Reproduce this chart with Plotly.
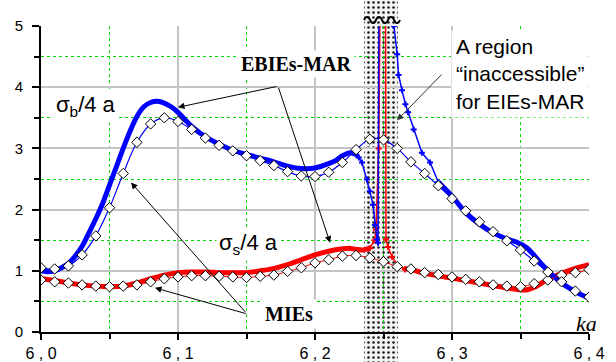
import plotly.graph_objects as go

# ---------------- data ----------------
# MIEs (thin lines with diamonds)
mie_ka = [6.00, 6.01, 6.02, 6.03, 6.04, 6.05, 6.06, 6.07, 6.08, 6.09,
          6.10, 6.11, 6.12, 6.13, 6.14, 6.15, 6.16, 6.17, 6.18, 6.19,
          6.20, 6.21, 6.22, 6.23, 6.24, 6.25, 6.26, 6.27, 6.28, 6.29,
          6.30, 6.31, 6.32, 6.33, 6.34, 6.35, 6.36, 6.37, 6.38, 6.39, 6.40]
mie_sigma_b = [1.05, 1.03, 1.08, 1.26, 1.57, 2.03, 2.59, 3.10, 3.40, 3.50,
               3.44, 3.31, 3.17, 3.05, 2.96, 2.88, 2.80, 2.72, 2.62, 2.55,
               2.54, 2.61, 2.77, 2.98, 3.15, 3.14, 3.00, 2.78, 2.59, 2.39,
               2.18, 1.98, 1.80, 1.64, 1.49, 1.34, 1.16, 0.98, 0.82, 0.67, 0.57]
mie_sigma_s = [0.85, 0.82, 0.80, 0.77, 0.75, 0.74, 0.75, 0.77, 0.82, 0.87,
               0.90, 0.92, 0.92, 0.91, 0.90, 0.89, 0.91, 0.93, 0.99, 1.05,
               1.13, 1.18, 1.24, 1.25, 1.21, 1.15, 1.07, 1.03, 0.97, 0.94,
               0.90, 0.86, 0.82, 0.77, 0.75, 0.74, 0.79, 0.85, 0.93, 0.97, 1.02]

# EBIEs-MAR sigma_b (thick blue), smooth parts
ebie_b_ka = [6.000, 6.005, 6.010, 6.015, 6.020, 6.025, 6.030, 6.035, 6.040, 6.045,
             6.050, 6.055, 6.060, 6.065, 6.070, 6.075, 6.080, 6.085, 6.090, 6.095,
             6.100, 6.110, 6.120, 6.130, 6.140, 6.150, 6.160, 6.170, 6.180, 6.190,
             6.200, 6.210, 6.215, 6.220, 6.226, 6.230,
             None,
             6.290, 6.300, 6.310, 6.320, 6.330, 6.340, 6.347, 6.355, 6.360, 6.365,
             6.370, 6.380, 6.390, 6.400]
ebie_b_val = [1.00, 0.985, 1.00, 1.05, 1.12, 1.24, 1.40, 1.62, 1.85, 2.10,
              2.40, 2.70, 3.00, 3.28, 3.52, 3.68, 3.75, 3.77, 3.74, 3.68,
              3.59, 3.36, 3.19, 3.07, 2.97, 2.90, 2.84, 2.78, 2.71, 2.67,
              2.68, 2.75, 2.80, 2.88, 2.93, 2.90,
              None,
              2.45, 2.22, 1.95, 1.76, 1.62, 1.52, 1.47, 1.37, 1.25, 1.12,
              1.00, 0.80, 0.66, 0.55]
# EBIEs-MAR sigma_b, steep parts near the resonance
ebie_b_steep_ka = [6.230, 6.232, 6.2343, 6.238, 6.240, 6.2423, 6.2438, 6.2453, 6.246, 6.2467,
                   None,
                   6.2572, 6.2576, 6.260, 6.261, 6.2635, 6.266, 6.268, 6.272, 6.278, 6.284, 6.290]
ebie_b_steep_val = [2.90, 2.85, 2.77, 2.49, 2.30, 2.08, 1.75, 1.51, 1.46, 5.4,
                    None,
                    5.4, 5.00, 4.54, 4.20, 3.95, 3.72, 3.59, 3.31, 2.93, 2.77, 2.45]

# EBIEs-MAR sigma_s (thick red), smooth parts
ebie_s_ka = [6.000, 6.010, 6.020, 6.030, 6.040, 6.050, 6.060, 6.070, 6.080, 6.090,
             6.100, 6.110, 6.120, 6.130, 6.140, 6.150, 6.160, 6.170, 6.180, 6.190,
             6.200, 6.210, 6.220, 6.225, 6.230, 6.235, 6.240,
             None,
             6.265, 6.270, 6.280, 6.290, 6.300, 6.310, 6.320, 6.330, 6.340, 6.350,
             6.355, 6.360, 6.370, 6.380, 6.390, 6.400]
ebie_s_val = [0.87, 0.84, 0.80, 0.77, 0.75, 0.74, 0.75, 0.80, 0.87, 0.93,
              0.97, 0.98, 0.98, 0.97, 0.97, 0.97, 1.00, 1.04, 1.10, 1.18,
              1.26, 1.32, 1.36, 1.37, 1.35, 1.34, 1.37,
              None,
              1.04, 1.02, 0.96, 0.92, 0.88, 0.84, 0.80, 0.76, 0.72, 0.69,
              0.69, 0.73, 0.86, 0.96, 1.04, 1.10]
ebie_s_steep_ka = [6.240, 6.2435, 6.2445, 6.2465, 6.2475,
                   None,
                   6.2515, 6.2518, 6.2533, 6.2562, 6.2606, 6.2657]
ebie_s_steep_val = [1.37, 1.50, 1.67, 3.00, 5.4,
                    None,
                    5.4, 1.51, 1.39, 1.23, 1.08, 1.02]

# region "inaccessible" for EIEs-MAR
region_ka = [6.2358, 6.2606]

x_ticks = [6.0, 6.1, 6.2, 6.3, 6.4]
x_ticktext = ["6 , 0", "6 , 1", "6 , 2", "6 , 3", "6 , 4"]
y_ticks = [0, 1, 2, 3, 4, 5]

# ---------------- layout helpers ----------------
W, H = 616, 362
X_DOM = [41 / W, 589 / W]
Y_DOM = [(H - 332) / H, (H - 26) / H]


def px(xp):
    return xp / W


def py(yp):
    return (H - yp) / H


BLUE = "#0000ff"
RED = "#ff0000"
GREEN = "#00e000"
GREY = "#c4c4c4"
SANS = "Liberation Sans, Arial, sans-serif"
SERIF = "Liberation Serif, Times New Roman, serif"

fig = go.Figure()

# hatched region (subplot xy spans the whole figure height)
fig.add_trace(go.Scatter(
    x=[region_ka[0], region_ka[1], region_ka[1], region_ka[0], region_ka[0]],
    y=[0, 0, 1, 1, 0], xaxis="x", yaxis="y",
    mode="lines", line=dict(width=0, color="rgba(0,0,0,0)"),
    fill="toself", fillcolor="#f2f2f2",
    fillpattern=dict(shape=".", fgcolor="#1a1a1a", bgcolor="#f2f2f2", size=5, solidity=0.2),
    hoverinfo="skip"))
# axis-break wave at top of the region
fig.add_trace(go.Scatter(
    x=[6.2358, 6.2369, 6.2380, 6.2391, 6.2402, 6.2413, 6.2424, 6.2435, 6.2445, 6.2456,
       6.2467, 6.2478, 6.2489, 6.2500, 6.2511, 6.2522, 6.2533, 6.2544, 6.2555, 6.2566,
       6.2577, 6.2588, 6.2599, 6.2610, 6.2620],
    y=[py(y) for y in [20, 17.5, 17, 17.5, 20, 22.5, 23, 22.5, 20, 17.5, 17, 17.5, 20,
                       22.5, 23, 22.5, 20, 17.5, 17, 17.5, 20, 22.5, 23, 22.5, 20]],
    xaxis="x", yaxis="y", mode="lines",
    line=dict(color="black", width=2, shape="spline"), hoverinfo="skip"))

# EBIEs-MAR thick curves
fig.add_trace(go.Scatter(x=ebie_s_ka, y=ebie_s_val, xaxis="x2", yaxis="y2", mode="lines",
                         line=dict(color=RED, width=5, shape="spline", smoothing=0.8)))
fig.add_trace(go.Scatter(x=ebie_b_ka, y=ebie_b_val, xaxis="x2", yaxis="y2", mode="lines",
                         line=dict(color=BLUE, width=5, shape="spline", smoothing=0.8)))
# steep parts
fig.add_trace(go.Scatter(x=ebie_s_steep_ka, y=ebie_s_steep_val, xaxis="x2", yaxis="y2",
                         mode="lines+markers", line=dict(color=RED, width=1.5),
                         marker=dict(symbol="cross", size=5, color=RED)))
fig.add_trace(go.Scatter(x=ebie_b_steep_ka, y=ebie_b_steep_val, xaxis="x2", yaxis="y2",
                         mode="lines+markers", line=dict(color=BLUE, width=1.5),
                         marker=dict(symbol="cross", size=5, color=BLUE)))

# MIEs thin curves with diamonds
diamond = dict(symbol="diamond", size=8, color="white", line=dict(color="black", width=1))
fig.add_trace(go.Scatter(x=mie_ka, y=mie_sigma_s, xaxis="x2", yaxis="y2", mode="lines+markers",
                         line=dict(color=RED, width=1, shape="spline"), marker=diamond))
fig.add_trace(go.Scatter(x=mie_ka, y=mie_sigma_b, xaxis="x2", yaxis="y2", mode="lines+markers",
                         line=dict(color=BLUE, width=1.2, shape="spline"), marker=diamond))

annotations = []
# text labels
annotations.append(dict(xref="paper", yref="paper", x=px(53), y=py(106), xanchor="left", yanchor="middle",
                        text="σ<sub>b</sub>/4 a", font=dict(family=SANS, size=22, color="black"),
                        showarrow=False, bgcolor="white", borderpad=2))
annotations.append(dict(xref="paper", yref="paper", x=px(216), y=py(244), xanchor="left", yanchor="middle",
                        text="σ<sub>s</sub>/4 a", font=dict(family=SANS, size=22, color="black"),
                        showarrow=False, bgcolor="white", borderpad=2))
annotations.append(dict(xref="paper", yref="paper", x=px(238), y=py(64), xanchor="left", yanchor="middle",
                        text="<b>EBIEs-MAR</b>", font=dict(family=SERIF, size=20, color="black"),
                        showarrow=False, bgcolor="white", borderpad=2))
annotations.append(dict(xref="paper", yref="paper", x=px(261), y=py(314), xanchor="left", yanchor="middle",
                        text="<b>MIEs</b>", font=dict(family=SERIF, size=20, color="black"),
                        showarrow=False, bgcolor="white", borderpad=3))
annotations.append(dict(xref="paper", yref="paper", x=px(451), y=py(74), xanchor="left", yanchor="middle",
                        align="left",
                        text="A region<br>“inaccessible”<br>for EIEs-MAR",
                        font=dict(family=SANS, size=21, color="black"),
                        showarrow=False, bgcolor="white", borderpad=4))
annotations.append(dict(xref="paper", yref="paper", x=px(599), y=py(323), xanchor="right", yanchor="middle",
                        text="<i>ka</i>", font=dict(family=SERIF, size=22, color="black"),
                        showarrow=False))

# arrows
arrow_specs = [
    ((6.173, 4.016), (6.100, 3.672), "black"),
    ((6.173, 4.016), (6.211, 1.459), "black"),
    ((6.1504, 0.295), (6.0657, 2.443), "black"),
    ((6.1504, 0.295), (6.0832, 0.721), "black"),
    ((6.2934, 4.23), (6.2599, 3.459), "#303030"),
]
for (tx, ty), (hx, hy), col in arrow_specs:
    annotations.append(dict(xref="x2", yref="y2", axref="x2", ayref="y2",
                            x=hx, y=hy, ax=tx, ay=ty, text="", showarrow=True,
                            arrowhead=2, arrowsize=1.3, arrowwidth=1, arrowcolor=col))

fig.update_layout(
    template="none",
    width=W, height=H,
    margin=dict(l=0, r=0, t=0, b=0, autoexpand=False),
    paper_bgcolor="white", plot_bgcolor="rgba(0,0,0,0)",
    showlegend=False,
    xaxis=dict(domain=X_DOM, range=[6.0, 6.4], visible=False, fixedrange=True, automargin=False),
    yaxis=dict(domain=[0, 1], range=[0, 1], visible=False, fixedrange=True, automargin=False),
    xaxis2=dict(domain=X_DOM, range=[6.0, 6.4], anchor="y2", automargin=False,
                tickmode="array", tickvals=x_ticks, ticktext=x_ticktext,
                ticks="outside", ticklen=6, tickwidth=1.5, tickcolor="black",
                showline=True, linecolor="black", linewidth=2, zeroline=False,
                showgrid=True, gridcolor=GREY, gridwidth=1.5,
                tickfont=dict(family=SANS, size=16, color="black"),
                minor=dict(tickmode="linear", tick0=6.0, dtick=0.05, ticks="outside", ticklen=5,
                           tickcolor="black", tickwidth=1.5,
                           showgrid=True, gridcolor=GREEN, griddash="dot", gridwidth=1)),
    yaxis2=dict(domain=Y_DOM, range=[0, 5], anchor="x2", automargin=False,
                tickmode="array", tickvals=y_ticks,
                ticks="outside", ticklen=7, tickwidth=1.5, tickcolor="black",
                showline=True, linecolor="black", linewidth=2, zeroline=False,
                showgrid=True, gridcolor=GREY, gridwidth=1.5,
                tickfont=dict(family=SANS, size=15, color="black"),
                ticklabelstandoff=6,
                minor=dict(tickmode="linear", tick0=0, dtick=0.5, ticks="outside", ticklen=5,
                           tickcolor="black", tickwidth=1.5,
                           showgrid=True, gridcolor=GREEN, griddash="dot", gridwidth=1)),
    annotations=annotations,
)

fig.write_html("out.html")
